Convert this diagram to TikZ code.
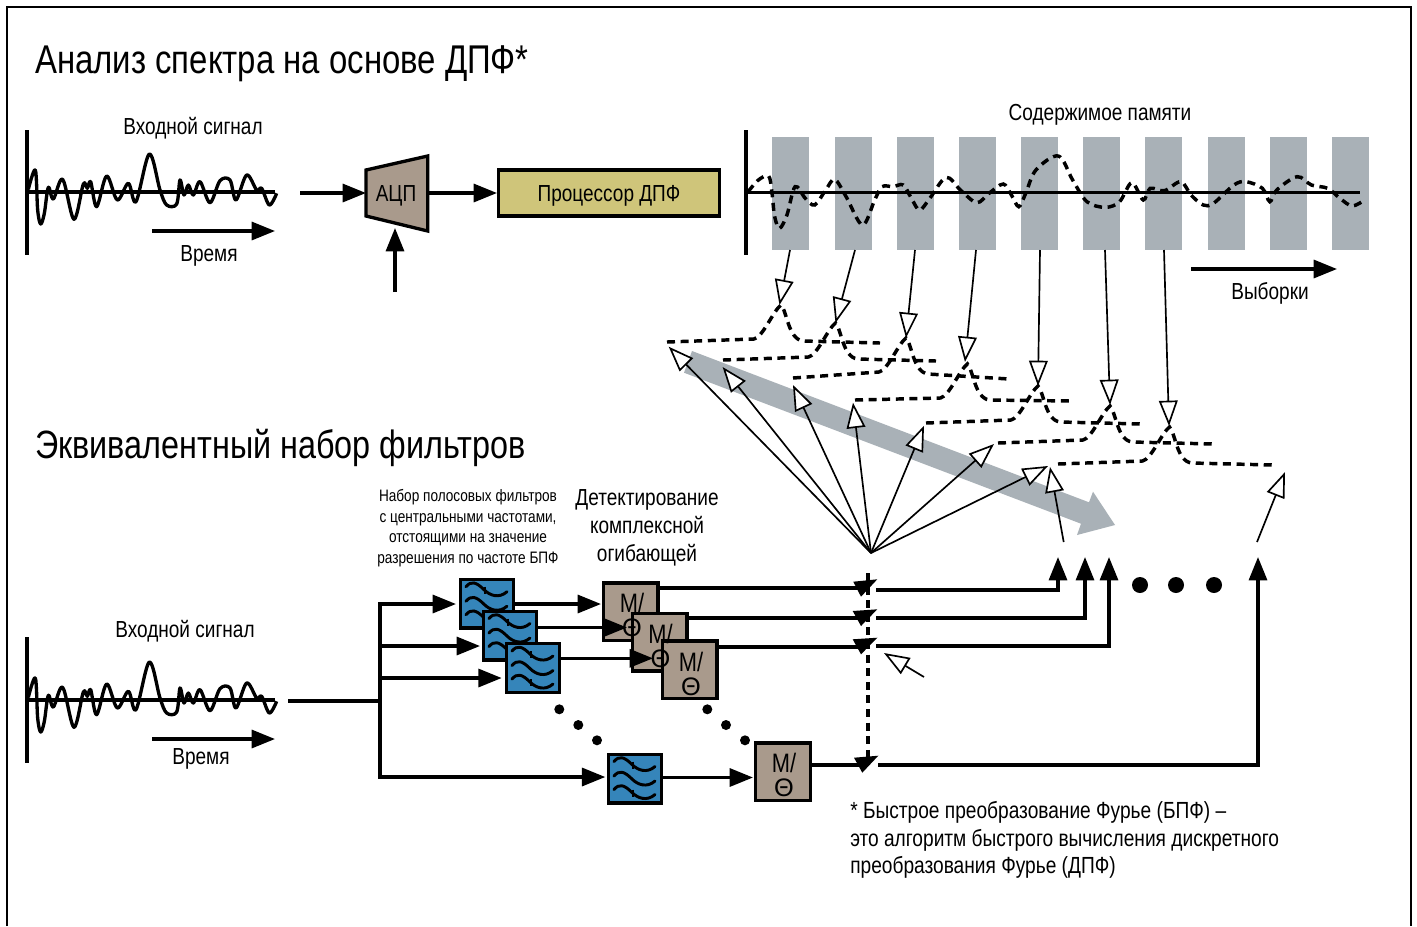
\documentclass[tikz,border=0pt]{standalone}
\usepackage{fontspec}
\setmainfont[FakeStretch=0.82]{Liberation Sans}
\newfontfamily\thetaf{Liberation Sans}
\usetikzlibrary{arrows.meta}
\definecolor{bargray}{HTML}{A9B1B7}
\definecolor{tan}{HTML}{A99A8C}
\definecolor{fblue}{HTML}{3585BA}
\definecolor{fyellow}{HTML}{CFC57A}
\newcommand\fs[2]{\fontsize{#1pt}{#2pt}\selectfont}
\newcommand\sigcurve{\draw[line width=2.5pt,line join=round] plot[smooth,tension=.55] coordinates {(85,268)(106,210)(113,330)(122,372)(133,340)(145,262)(160,297)(188,238)(222,358)(250,252)(262,265)(272,245)(290,320)(320,228)(352,300)(385,250)(408,305)(448,162)(480,270)(500,315)(530,312)(540,240)(552,285)(565,255)(580,285)(600,245)(630,308)(660,242)(690,240)(708,300)(740,225)(770,270)(785,265)(808,315)(830,280)};}
\newcommand\waves[1]{\begin{scope}[shift={(#1.center)}]
\foreach \d in {0,14.5,28}{\draw[line width=2.2pt,line cap=round] (-21,-17+\d) .. controls (-16,-23+\d) and (-11,-22+\d) .. (-3,-14+\d) .. controls (3,-8+\d) and (12,-5+\d) .. (20,-12+\d);}
\draw[line width=2.2pt] (-2,-17) -- (-2,-10);
\draw[line width=2.2pt] (-2,11) -- (-2,18);
\end{scope}}
\newcommand\bump[6]{\draw[dashline] (#1,#2) -- (#3-27,#4+34) .. controls (#3-18,#4+32) and (#3-8,#4+6) .. (#3,#4) .. controls (#3+6,#4+6) and (#3+7,#4+34) .. (#3+22,#4+36) -- (#5,#6);}
\newcommand\mt{M/\\[-1pt]{\thetaf\fontsize{19pt}{19pt}\selectfont Θ}}
\tikzset{
 wire/.style={line width=2.4pt},
 arr/.style={line width=2.4pt,-{Triangle[length=17.5pt,width=13.5pt]}},
 thinarr/.style={line width=1.25pt,-{Triangle[length=19pt,width=14pt,fill=white]}},
 dashline/.style={line width=2.6pt,dash pattern=on 6pt off 4.2pt},
 txt/.style={inner sep=0pt,align=center,yshift=-1.5pt,font=\fs{17.4}{21}},
 title/.style={inner sep=0pt,anchor=west},
 filterbox/.style={draw,line width=2.5pt,fill=fblue,minimum width=40pt,minimum height=36.5pt,inner sep=0pt},
 magbox/.style={draw,line width=2.5pt,fill=tan,minimum width=41pt,minimum height=43pt,inner sep=0pt},
 magtxt/.style={inner sep=0pt,align=center,font=\fs{20}{19}},
 membar/.style={fill=bargray,minimum width=27.75pt,minimum height=84.75pt,inner sep=0pt},
 dotmark/.style={circle,fill=black,inner sep=0pt,minimum size=7.5pt},
 bigdot/.style={circle,fill=black,inner sep=0pt,minimum size=12pt},
}
\begin{document}
\begin{tikzpicture}[x=.75pt,y=-.75pt]
\useasboundingbox (0,0) rectangle (1417,926);
\fill[white] (0,0) rectangle (1417,926);
\draw[line width=1.3pt] (7,926) -- (7,7) -- (1411,7) -- (1411,926);
% titles
\node[title,font=\fs{30.1}{32}] (t1) at (35,63.5) {Анализ спектра на основе ДПФ*};
\node[title,font=\fs{29.6}{32}] (t2) at (35,448) {Эквивалентный набор фильтров};
% top left signal
\node[txt] (insig1) at (193,126) {Входной сигнал};
\coordinate (ax1a) at (27,130); \coordinate (ax1b) at (27,255);
\coordinate (bl1a) at (27,192); \coordinate (bl1b) at (275,192);
\draw[wire] (ax1a) -- (ax1b);
\draw[wire] (bl1a) -- (bl1b);
\begin{scope}[x=.25pt,y=-.25pt,shift={(0pt,-75pt)}]\sigcurve\end{scope}
\coordinate (tm1a) at (152,231); \coordinate (tm1b) at (275,231);
\draw[arr] (tm1a) -- (tm1b);
\node[txt] (time1) at (209,254) {Время};
% ADC
\draw[line width=2.5pt,fill=tan] (366,170) -- (427.7,156) -- (427.7,231) -- (366,216) -- cycle;
\node[txt] (adc) at (396,194) {АЦП};
\coordinate (adcin) at (300,193); \coordinate (adcw) at (366,193);
\coordinate (adce) at (428,193); \coordinate (clk) at (395,292); \coordinate (adcs) at (395,228);
\draw[arr] (adcin) -- (adcw);
\draw[arr] (clk) -- (adcs);
\node[draw,line width=2.5pt,fill=fyellow,minimum width=165.5pt,minimum height=34.5pt,inner sep=0pt] (dsp) at (609,193) {};
\node[txt] (dsptxt) at (609,194) {Процессор ДПФ};
\draw[arr] (adce) -- (dsp.west);
% memory
\node[txt] (mem) at (1100,113) {Содержимое памяти};
\foreach \n/\x in {1/790.5,2/853.5,3/915.5,4/977.5,5/1039.5,6/1101.5,7/1163.5,8/1226.5,9/1288.5,10/1350.5}{\node[membar] (bar\n) at (\x,193.5) {};}
\coordinate (ax2a) at (746,130); \coordinate (ax2b) at (746,255);
\coordinate (bl2a) at (746,192.5); \coordinate (bl2b) at (1360,192.5);
\draw[wire] (ax2a) -- (ax2b);
\draw[wire] (bl2a) -- (bl2b);
\begin{scope}[x=.3061pt,y=-.25pt,shift={(555pt,-90pt)}]
\draw[dashline] plot[smooth,tension=.55] coordinates {(20,215)(45,180)(70,168)(78,215)(85,290)(97,325)(115,285)(135,200)(160,235)(183,255)(210,210)(232,178)(260,230)(300,315)(330,240)(348,200)(375,200)(400,195)(420,235)(440,270)(465,235)(505,172)(540,210)(580,248)(610,220)(645,192)(665,225)(683,260)(700,220)(725,150)(780,108)(815,180)(850,245)(895,262)(930,245)(960,188)(988,240)(1005,205)(1040,212)(1080,185)(1105,225)(1135,255)(1160,250)(1210,195)(1240,185)(1280,205)(1298,245)(1315,210)(1365,170)(1400,195)(1440,205)(1470,235)(1500,258)(1530,240)};
\end{scope}
\coordinate (sm1) at (1191,269); \coordinate (sm2) at (1337,269);
\draw[arr] (sm1) -- (sm2);
\node[txt] (samples) at (1270,291) {Выборки};
% big gray arrow
\fill[bargray] (692,351) -- (1089,502.3) -- (1093,491.7) -- (1115,525) -- (1077,535) -- (1081,523.7) -- (684,372.7) -- cycle;
% filter responses
\bump{667}{342}{781}{305}{880}{343}
\bump{723}{360}{835.5}{323}{936}{361}
\bump{793}{378}{906}{338}{1009}{379}
\bump{855}{400}{967.4}{364}{1071}{401}
\bump{926}{423}{1038}{386}{1142}{424}
\bump{998}{443}{1110}{406}{1214}{444}
\bump{1058}{464}{1169.5}{427}{1273}{465}
% arrows from bars
\coordinate (s1) at (790,250); \coordinate (e1) at (779.5,305);
\coordinate (s2) at (855,250); \coordinate (e2) at (835.5,323);
\coordinate (s3) at (915,250); \coordinate (e3) at (906,338);
\coordinate (s4) at (976,250); \coordinate (e4) at (965,362);
\coordinate (s5) at (1040,250); \coordinate (e5) at (1038,386);
\coordinate (s6) at (1105,250); \coordinate (e6) at (1110,405);
\coordinate (s7) at (1164,250); \coordinate (e7) at (1169,426);
\foreach \i in {1,...,7}{\draw[thinarr] (s\i) -- (e\i);}
% fan
\coordinate (apex) at (871,553);
\coordinate (f1) at (668.7,346.7); \coordinate (f2) at (722.6,367); \coordinate (f3) at (793,385);
\coordinate (f4) at (853,402.7); \coordinate (f5) at (924,425.7); \coordinate (f6) at (994,444); \coordinate (f7) at (1048,466);
\foreach \i in {1,...,7}{\draw[thinarr] (apex) -- (f\i);}
\coordinate (g1a) at (1063.7,542); \coordinate (g1b) at (1050,467);
\coordinate (g2a) at (1257,542); \coordinate (g2b) at (1285,472);
\coordinate (g3a) at (924,677); \coordinate (g3b) at (884,653);
\draw[thinarr] (g1a) -- (g1b);
\draw[thinarr] (g2a) -- (g2b);
\draw[thinarr] (g3a) -- (g3b);
% lower signal
\node[txt] (insig2) at (185,629) {Входной сигнал};
\coordinate (ax3a) at (27,637); \coordinate (ax3b) at (27,763);
\coordinate (bl3a) at (27,700); \coordinate (bl3b) at (275,700);
\draw[wire] (ax3a) -- (ax3b);
\draw[wire] (bl3a) -- (bl3b);
\begin{scope}[x=.25pt,y=-.25pt,shift={(0pt,-456pt)}]\sigcurve\end{scope}
\coordinate (tm2a) at (152,739); \coordinate (tm2b) at (275,739);
\draw[arr] (tm2a) -- (tm2b);
\node[txt] (time2) at (201,757) {Время};
% labels
\node[inner sep=0pt,align=center,yshift=-.75pt,font=\fs{12.45}{15.5}] (lbl1) at (468,527) {Набор полосовых фильтров\\с центральными частотами,\\отстоящими на значение\\разрешения по частоте БПФ};
\node[inner sep=0pt,align=center,yshift=-1.2pt,font=\fs{17.4}{20.8}] (lbl2) at (647,526) {Детектирование\\комплексной\\огибающей};
\node[inner sep=0pt,align=left,anchor=west,yshift=-.75pt,font=\fs{17.5}{20.8}] (note) at (850,839) {* Быстрое преобразование Фурье (БПФ) –\\это алгоритм быстрого вычисления дискретного\\преобразования Фурье (ДПФ)};
% bus
\coordinate (busin) at (288,701); \coordinate (busj) at (380,701);
\coordinate (bust) at (380,604); \coordinate (busb) at (380,777);
\coordinate (j2) at (380,646); \coordinate (j3) at (380,678);
\coordinate (t1in) at (456,604); \coordinate (t2in) at (480,646); \coordinate (t3in) at (501.7,678); \coordinate (t4in) at (605.3,777);
\draw[wire] (busin) -- (busj);
\draw[arr] (busj) -- (bust) -- (t1in);
\draw[arr] (j2) -- (t2in);
\draw[arr] (j3) -- (t3in);
\draw[arr] (busj) -- (busb) -- (t4in);
% filters
\node[filterbox] (fa) at (487,603.7) {}; \waves{fa}
\node[filterbox] (fb) at (510,635.5) {}; \waves{fb}
\node[filterbox] (fc) at (533,668) {}; \waves{fc}
\node[filterbox] (fd) at (635,778.5) {}; \waves{fd}
% magnitude boxes
\node[magbox] (ma) at (630.5,611.7) {};
\node[magbox] (mb) at (659.7,642.3) {};
\node[magbox] (mc) at (689.5,669.7) {};
\node[magbox] (md) at (783,771.8) {};
\node[magtxt] (mat) at (632,615) {\mt};
\node[magtxt] (mbt) at (660.5,646) {\mt};
\node[magtxt] (mct) at (691,673.5) {\mt};
\node[magtxt] (mdt) at (784,775) {\mt};
\coordinate (fae) at (515,604); \coordinate (mai) at (601,604);
\coordinate (fbe) at (538,627.5); \coordinate (mao) at (627,627.5);
\coordinate (fce) at (561,658.3); \coordinate (mbi) at (653,658.3);
\coordinate (fde) at (663,777.5); \coordinate (mdi) at (753,777.5);
\draw[arr] (fae) -- (mai);
\draw[arr] (fbe) -- (mao);
\draw[arr] (fce) -- (mbi);
\draw[arr] (fde) -- (mdi);
% dots
\foreach \n/\x/\y in {1/559.3/709.3,2/578.3/725,3/597/740.3,4/707.3/709.3,5/726/725,6/745/740.3}{\node[dotmark] (d\n) at (\x,\y) {};}
\foreach \n/\x in {7/1140,8/1176,9/1214}{\node[bigdot] (d\n) at (\x,585) {};}
% switches
\coordinate (sw1) at (868,573); \coordinate (sw2) at (868,765);
\draw[dashline] (sw1) -- (sw2);
\coordinate (a1) at (660,588); \coordinate (a1e) at (860,588);
\coordinate (a2) at (689,618); \coordinate (a2e) at (860,618);
\coordinate (a3) at (719,647); \coordinate (a3e) at (860,647);
\coordinate (a4) at (812,765); \coordinate (a4e) at (860,765);
\draw[wire] (a1) -- (a1e);
\draw[wire] (a2) -- (a2e);
\draw[wire] (a3) -- (a3e);
\draw[wire] (a4) -- (a4e);
\fill (853.3,581.7) -- (877.3,579.3) -- (861,596.7) -- cycle;
\fill (852.7,611) -- (877.3,609.3) -- (861,626) -- cycle;
\fill (852.7,639.3) -- (877.3,637.7) -- (861,654.3) -- cycle;
\fill (854,757.7) -- (878.3,755.7) -- (862.3,772.7) -- cycle;
\coordinate (r1) at (876,590); \coordinate (u1) at (1058,557);
\coordinate (r2) at (876,618); \coordinate (u2) at (1085,557);
\coordinate (r3) at (876,646); \coordinate (u3) at (1109,557);
\coordinate (r4) at (878,765); \coordinate (u4) at (1258,557);
\draw[arr] (r1) -| (u1);
\draw[arr] (r2) -| (u2);
\draw[arr] (r3) -| (u3);
\draw[arr] (r4) -| (u4);
\end{tikzpicture}
\end{document}
